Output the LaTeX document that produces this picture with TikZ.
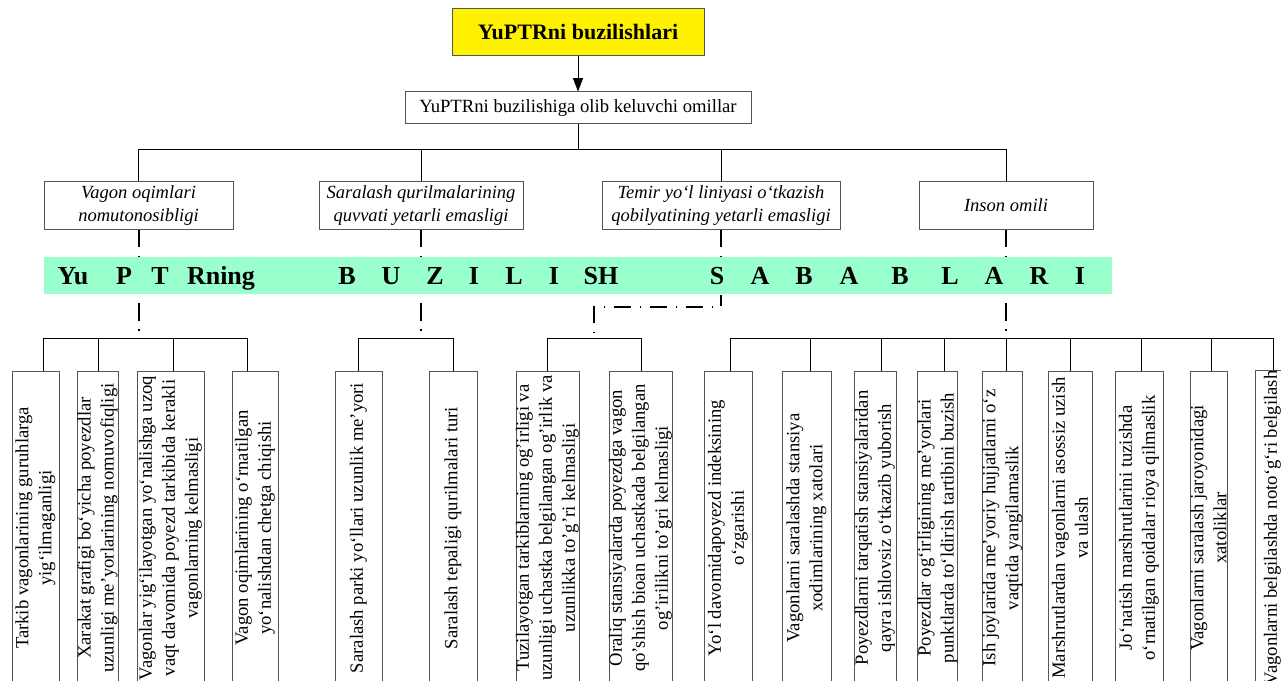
\documentclass[tikz,border=0pt]{standalone}
\usepackage{fontspec}
\setmainfont{Liberation Serif}
\usetikzlibrary{arrows.meta}

\definecolor{mint}{HTML}{99FFCC}
\definecolor{rim}{HTML}{555555}

\tikzset{
  topbox/.style={draw=rim, fill=yellow, inner sep=0pt,
    font=\bfseries\fontsize{16.5}{19}\selectfont},
  omilbox/.style={draw=rim, inner sep=0pt, font=\fontsize{14}{17}\selectfont},
  turbox/.style={draw=rim, inner sep=0pt, align=center,
    minimum height=47*0.75pt, font=\itshape\fontsize{13.9}{17.25}\selectfont},
  sabab/.style={draw=rim, inner sep=0pt, align=center, rotate=90,
    minimum width=314*0.75pt, font=\fontsize{14}{17.25}\selectfont},
  harf/.style={anchor=base, inner sep=0pt, font=\bfseries\fontsize{19.5}{22}\selectfont},
  link/.style={line width=1.5pt, dash pattern=on 13pt off 6.5pt on 1pt off 6.5pt},
  linkb/.style={link, dash phase=20.5pt},
}

\begin{document}
\begin{tikzpicture}[x=0.75pt, y=-0.75pt, line width=0.75pt]
\useasboundingbox (0,0) rectangle (1281,681);
\clip (0,0) rectangle (1281,681);

\node[topbox, minimum width=252*0.75pt, minimum height=47*0.75pt] (top) at (578,32.5) {YuPTRni buzilishlari};
\node[omilbox, minimum width=346*0.75pt, minimum height=32*0.75pt] (omil) at (578,108) {YuPTRni buzilishiga olib keluvchi omillar};
\draw[-{Triangle[length=10pt,width=7.5pt]}] (top) -- (omil);

\node[turbox, minimum width=189*0.75pt] (c1) at (138.5,205.5) {Vagon oqimlari\\nomutonosibligi};
\node[turbox, minimum width=204*0.75pt] (c2) at (421,205.5) {Saralash qurilmalarining\\quvvati yetarli emasligi};
\node[turbox, minimum width=238*0.75pt] (c3) at (721,205.5) {Temir yo‘l liniyasi o‘tkazish\\qobilyatining yetarli emasligi};
\node[turbox, minimum width=174*0.75pt] (c4) at (1006,205.5) {Inson omili};

\coordinate (bus) at (578,150);
\draw (omil) -- (bus);
\foreach \c in {c1,c2,c3,c4}
  \draw (bus) -| (\c.north);

% yashil tasma
\node[fill=mint, inner sep=0pt, minimum width=1068*0.75pt, minimum height=37*0.75pt] (band) at (578,275.5) {};
\foreach \l/\x in {Yu/73, P/124, T/160, Rning/221, B/347, U/391, Z/435, I/474, L/514, I/554, SH/601,
                   S/717, A/760, B/804, A/849, B/900, L/950, A/994, R/1039, I/1080}
  \node[harf] (h\x) at (\x,284) {\l};

\coordinate (g1) at (138.5,338);
\coordinate (g2) at (421,338);
\coordinate (g3) at (594,338);
\coordinate (g4) at (1006,338);
\coordinate (k3) at (594,307);

\foreach \c in {c1,c2,c3,c4}
  \draw[link] (\c.south) -- (\c.south |- band.north);
\draw[linkb] (c1.south |- band.south) -- (g1);
\draw[linkb] (c2.south |- band.south) -- (g2);
\draw[link, dash phase=16pt] (g3) -- (k3) -| (c3.south |- band.south);
\draw[linkb] (c4.south |- band.south) -- (g4);

% sabablar
\foreach \n/\g/\a/\b/\d/\t in {
  a/g1/12/59/43/{Tarkib vagonlarining guruhlarga\\yig‘ilmaganligi},
  b/g1/77/118/98/{Xarakat grafigi bo‘yicha poyezdlar\\uzunligi me’yorlarining nomuvofiqligi},
  c/g1/137/204/173/{Vagonlar yig‘ilayotgan yo‘nalishga uzoq\\vaqt davomida poyezd tarkibida kerakli\\vagonlarning kelmasligi},
  d/g1/232/278/247/{Vagon oqimlarining o‘rnatilgan\\yo‘nalishdan chetga chiqishi},
  e/g2/335/382/358/{Saralash parki yo‘llari uzunlik me’yori},
  f/g2/429/477/453/{Saralash tepaligi qurilmalari turi},
  g/g3/516/579/547/{Tuzilayotgan tarkiblarning og’irligi va\\uzunligi uchastka belgilangan og’irlik va\\uzunlikka to’g’ri kelmasligi},
  h/g3/609/672/641/{Oraliq stansiyalarda poyezdga vagon\\qo’shish bioan uchastkada belgilangan\\og’irilikni to’gri kelmasligi},
  i/g4/704/752/730/{Yo‘l davomidapoyezd indeksining\\o‘zgarishi},
  j/g4/782/831/810/{Vagonlarni saralashda stansiya\\xodimlarining xatolari},
  k/g4/854/896/881/{Poyezdlarni tarqatish stansiyalaridan\\qayra ishlovsiz o‘tkazib yuborish},
  l/g4/918/957/944/{Poyezdlar og‘irligining me’yorlari\\punktlarda to‘ldirish tartibini buzish},
  m/g4/983/1022/1006/{Ish joylarida me’yoriy hujjatlarni o‘z\\vaqtida yangilamaslik},
  n/g4/1048/1092/1070/{Marshrutlardan vagonlarni asossiz uzish\\va ulash},
  o/g4/1115/1163/1141/{Jo‘natish marshrutlarini tuzishda\\o‘rnatilgan qoidalar rioya qilmaslik},
  p/g4/1190/1227/1211/{Vagonlarni saralash jaroyonidagi\\xatoliklar},
  q/g4/1255/1290/1273/{Vagonlarni belgilashda noto‘g‘ri belgilash}}
{
  \node[sabab, minimum height={(\b-\a)*0.75pt}] (s\n) at ({(\a+\b)/2},528) {\t};
  \draw (\g) -| (s\n.east -| \d,0);
}
\end{tikzpicture}
\end{document}
